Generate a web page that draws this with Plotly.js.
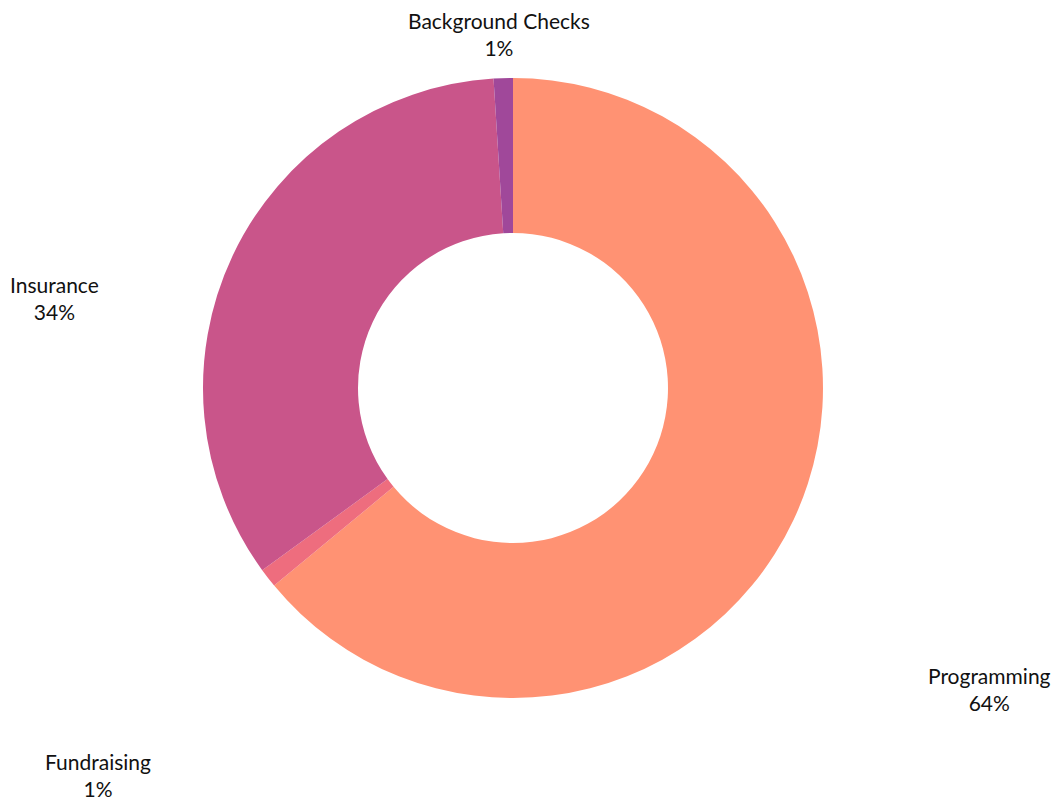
<!DOCTYPE html>
<html>
<head>
<meta charset="utf-8">
<script src="https://cdn.plot.ly/plotly-3.0.1.min.js"></script>
<style>html,body{margin:0;padding:0;background:#fff;}#chart{width:1055px;height:800px;}</style>
</head>
<body>
<div id="chart"></div>
<script>
const categories = ["Programming", "Fundraising", "Insurance", "Background Checks"];
const values = [64, 1, 34, 1];
const colors = ["#FF9273", "#EE6D7E", "#C9558A", "#A0489A"];
// label anchor positions (paper coords)
const labelX = [0.9375, 0.0929, 0.0521, 0.473];
const labelY = [0.139, 0.031, 0.6275, 0.9575];

const total = values.reduce((a, b) => a + b, 0);
const annotations = categories.map((c, i) => ({
  text: c + "<br>" + Math.round(values[i] / total * 100) + "%",
  x: labelX[i], y: labelY[i], xref: "paper", yref: "paper",
  xanchor: "center", yanchor: "middle", showarrow: false, align: "center",
  font: {family: "Lato, sans-serif", size: 21, color: "#111"}
}));

const trace = {
  type: "pie",
  labels: categories,
  values: values,
  sort: false,
  direction: "clockwise",
  rotation: 0,
  hole: 0.5,
  textinfo: "none",
  marker: {colors: colors, line: {width: 0}},
  domain: {x: [0.1924, 0.7801], y: [0.1275, 0.9025]},
  showlegend: false
};

Plotly.newPlot("chart", [trace], {
  width: 1055, height: 800,
  margin: {l: 0, r: 0, t: 0, b: 0},
  paper_bgcolor: "#fff",
  showlegend: false,
  annotations: annotations,
  font: {family: "Lato, sans-serif"}
}, {displayModeBar: false});
</script>
</body>
</html>
